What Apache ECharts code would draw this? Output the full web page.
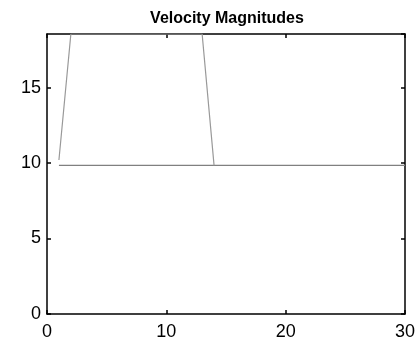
<!DOCTYPE html>
<html>
<head>
<meta charset="utf-8">
<script src="https://cdn.jsdelivr.net/npm/echarts@6/dist/echarts.min.js"></script>
<style>html,body{margin:0;padding:0;background:#fff;}#c{width:419px;height:341px;}</style>
</head>
<body>
<div id="c"></div>
<script>
var title = "Velocity Magnitudes";
var xTicks = [0, 10, 20, 30];
var yTicks = [0, 5, 10, 15];
var pulseX = [1, 2, 13, 14];
var pulseY = [10.2, 18.55, 18.55, 9.85];
var baseX = [1, 30];
var baseY = [9.85, 9.85];

function pairs(xs, ys) { return xs.map(function (x, i) { return [x, ys[i]]; }); }

var chart = echarts.init(document.getElementById('c'), null, {renderer: 'canvas'});
var font = 'Liberation Sans, Arial, Helvetica, sans-serif';
var axisLine = {show: true, onZero: false, lineStyle: {color: '#000', width: 1.5}};
var tick = {show: true, inside: true, length: 4, lineStyle: {color: '#000', width: 1.5}};
chart.setOption({
  animation: false,
  backgroundColor: '#fff',
  title: {
    text: title, left: 222, top: 6, textAlign: 'center',
    textStyle: {fontFamily: font, fontSize: 16, fontWeight: 'bold', color: '#000'}
  },
  grid: {left: 47, right: 14, top: 34, bottom: 25, containLabel: false},
  xAxis: [
    {type: 'value', min: xTicks[0], max: xTicks[xTicks.length - 1], interval: 10,
     axisLine: axisLine, axisTick: tick, splitLine: {show: false},
     axisLabel: {fontFamily: font, fontSize: 18, color: '#000', margin: 9}},
    {type: 'value', position: 'top', min: 0, max: 30, interval: 10,
     axisLine: axisLine, axisTick: tick, splitLine: {show: false}, axisLabel: {show: false}}
  ],
  yAxis: [
    {type: 'value', min: yTicks[0], max: 18.55, interval: 5,
     axisLine: axisLine, axisTick: tick, splitLine: {show: false},
     axisLabel: {fontFamily: font, fontSize: 18, color: '#000', margin: 6, showMaxLabel: false}},
    {type: 'value', position: 'right', min: 0, max: 18.55, interval: 5,
     axisLine: axisLine, axisTick: tick, splitLine: {show: false}, axisLabel: {show: false}}
  ],
  series: [
    {type: 'line', data: pairs(baseX, baseY), showSymbol: false, symbol: 'none',
     lineStyle: {color: '#808080', width: 1.2}},
    {type: 'line', data: pairs(pulseX, pulseY), showSymbol: false, symbol: 'none',
     lineStyle: {color: '#999', width: 1.2}}
  ]
});
</script>
</body>
</html>
